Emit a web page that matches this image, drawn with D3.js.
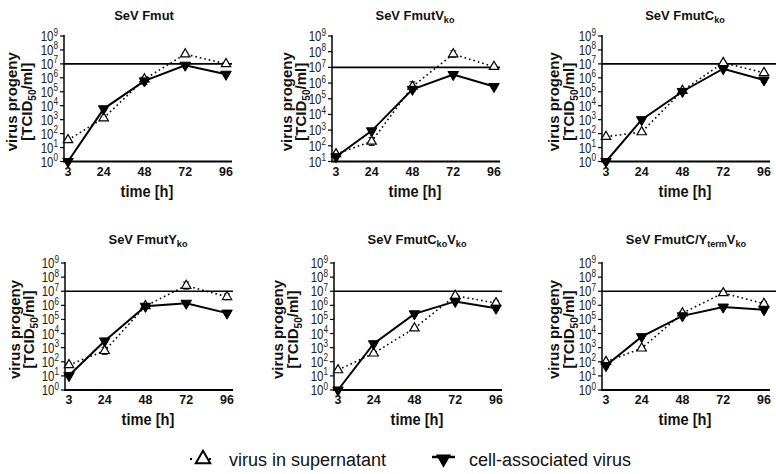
<!DOCTYPE html>
<html><head><meta charset="utf-8">
<script src="https://cdn.jsdelivr.net/npm/d3@7"></script>
<style>
html,body{margin:0;padding:0;background:#fff;}
svg{display:block;font-family:"Liberation Sans",Arial,sans-serif;}
</style></head>
<body>
<svg id="chart" width="776" height="474"></svg>
<script>
// ---------------- data ----------------
const hours = [3, 24, 48, 72, 96];
const panelTitles = [
  [["SeV Fmut", false]],
  [["SeV FmutV", false], ["ko", true]],
  [["SeV FmutC", false], ["ko", true]],
  [["SeV FmutY", false], ["ko", true]],
  [["SeV FmutC", false], ["ko", true], ["V", false], ["ko", true]],
  [["SeV FmutC/Y", false], ["term", true], ["V", false], ["ko", true]]
];
const supernatant = [
  [35, 1.3e3, 8e5, 5e7, 1e7],
  [30, 1.9e2, 6e5, 7e7, 1.1e7],
  [60, 1.3e2, 1.2e5, 1.2e7, 2.3e6],
  [60, 6e2, 9e5, 2.5e7, 4e6],
  [26, 4e2, 2.4e4, 4.8e6, 1.45e6],
  [100, 9e2, 2.8e5, 7.5e6, 1.3e6]
];
const cellAssociated = [
  [1, 6e3, 6e5, 8e6, 1.8e6],
  [20, 9e2, 4e5, 3.5e6, 6e5],
  [1, 1e3, 1.05e5, 4.5e6, 7e5],
  [10.5, 3e3, 8.5e5, 1.4e6, 2.8e5],
  [1, 1.9e3, 2.5e5, 1.9e6, 6.3e5],
  [54, 6e3, 1.8e5, 7.5e5, 4.9e5]
];
// error half-widths in log10 units
const supernatantErr = [
  [0, 0.1, 0.15, 0.1, 0.1],
  [0.1, 0.25, 0.3, 0.2, 0.1],
  [0, 0, 0.1, 0.1, 0.1],
  [0.1, 0.25, 0.1, 0.25, 0.2],
  [0.1, 0.1, 0.1, 0.1, 0.15],
  [0.1, 0.1, 0.1, 0.1, 0.15]
];
const cellErr = [
  [0, 0.1, 0.25, 0.1, 0.1],
  [0.1, 0.1, 0.1, 0.1, 0.1],
  [0, 0.1, 0.1, 0.1, 0.15],
  [0.1, 0.1, 0.1, 0.1, 0.1],
  [0, 0.1, 0.1, 0.1, 0.15],
  [0.15, 0.1, 0.1, 0.1, 0.15]
];
const yMinExp = [0, 1, 0, 0, 0, 0];
const yMaxExp = 9;
const referenceLine = 1e7;
const yTitle = "virus progeny";
const xTitle = "time [h]";
const legendLabels = ["virus in supernatant", "cell-associated virus"];

// ---------------- layout ----------------
const axisLeft = [64, 332, 602, 65, 334, 602];
const rowTop = [36, 36, 36, 263, 263, 263];
const rowBottom = [161.5, 161.5, 161.5, 390, 390, 390];
const titleBaseline = [19.5, 19.5, 19.5, 243.5, 243.5, 243.5];
const titleDx = [80, 83, 83, 83, 83, 84];
const yTitleCenters = [[-52, -37], [-45, -31], [-48, -33], [-50, -36], [-56, -41], [-48, -33]];
const SX = 0.86;

const svg = d3.select("#chart");
const triUp = d3.symbol().type(d3.symbolTriangle).size(38);
const triDown = d3.symbol().type(d3.symbolTriangle).size(48);

function ctext(parent, x, y, sx) {
  return parent.append("g").attr("transform", `translate(${x},${y}) scale(${sx},1)`)
    .append("text").attr("x", 0).attr("y", 0);
}

panelTitles.forEach((title, i) => {
  const L = axisLeft[i];
  const g = svg.append("g");
  const x = d3.scaleLinear().domain([3, 96]).range([L + 4, L + 162]);
  const y = d3.scaleLog().domain([Math.pow(10, yMinExp[i]), Math.pow(10, yMaxExp)])
              .range([rowBottom[i], rowTop[i]]);
  const xEnd = L + 168;
  const yc = (rowTop[i] + rowBottom[i]) / 2;

  // title
  const t = ctext(g, L + titleDx[i], titleBaseline[i], 0.96)
    .attr("text-anchor", "middle").attr("font-weight", "bold").attr("font-size", 13.5).attr("fill", "#111");
  title.forEach(([s, sub]) => {
    const ts = t.append("tspan").text(s);
    if (sub) ts.attr("font-size", 9.5).attr("baseline-shift", "-3");
  });

  // y axis
  const exps = d3.range(yMinExp[i], yMaxExp + 1);
  g.append("line").attr("x1", L).attr("x2", L).attr("y1", rowTop[i] - 1).attr("y2", rowBottom[i])
    .attr("stroke", "#000").attr("stroke-width", 1.5);
  exps.forEach(e => {
    const yy = y(Math.pow(10, e));
    g.append("line").attr("x1", L - 4).attr("x2", L).attr("y1", yy).attr("y2", yy)
      .attr("stroke", "#000").attr("stroke-width", 1.2);
    const tx = ctext(g, L - 6, yy + 5, 0.82)
      .attr("text-anchor", "end").attr("font-size", 14).attr("fill", "#222");
    tx.append("tspan").text("10");
    tx.append("tspan").text(e).attr("font-size", 10).attr("dy", -5.5);
  });

  // x axis
  g.append("line").attr("x1", L - 1).attr("x2", Math.min(xEnd, 776)).attr("y1", rowBottom[i]).attr("y2", rowBottom[i])
    .attr("stroke", "#000").attr("stroke-width", 2);
  hours.forEach(h => {
    ctext(g, x(h), rowBottom[i] + 14, 0.92)
      .attr("text-anchor", "middle").attr("font-size", 13.5).attr("font-weight", "bold").attr("fill", "#111").text(h);
  });
  ctext(g, L + 83, rowBottom[i] + 35, SX)
    .attr("text-anchor", "middle").attr("font-size", 17).attr("font-weight", "bold").attr("fill", "#111").text(xTitle);

  // y title (two lines, rotated)
  g.append("text").attr("transform", `translate(${L + yTitleCenters[i][0] + 4.5},${yc + 3}) rotate(-90)`)
    .attr("text-anchor", "middle").attr("font-size", 15).attr("font-weight", "bold").attr("fill", "#111").text(yTitle);
  const yt2 = g.append("text").attr("transform", `translate(${L + yTitleCenters[i][1] + 4.5},${yc + 3}) rotate(-90)`)
    .attr("text-anchor", "middle").attr("font-size", 15).attr("font-weight", "bold").attr("fill", "#111");
  yt2.append("tspan").text("[TCID");
  yt2.append("tspan").text("50").attr("font-size", 10).attr("baseline-shift", "-3.5");
  yt2.append("tspan").text("/ml]");

  // reference line
  const refEnd = i % 3 === 2 ? 776 : xEnd;
  g.append("line").attr("x1", L).attr("x2", refEnd).attr("y1", y(referenceLine)).attr("y2", y(referenceLine))
    .attr("stroke", "#000").attr("stroke-width", 1.6);

  const line = d3.line().x((d, k) => x(hours[k])).y(d => y(d));
  g.append("path").datum(cellAssociated[i]).attr("d", line)
    .attr("fill", "none").attr("stroke", "#000").attr("stroke-width", 2);
  g.append("path").datum(supernatant[i]).attr("d", line)
    .attr("fill", "none").attr("stroke", "#000").attr("stroke-width", 1.6).attr("stroke-dasharray", "1.6,3");

  // error bars
  const drawErr = (vals, errs) => vals.forEach((v, k) => {
    const e = errs[k];
    if (!e) return;
    const lv = Math.log10(v);
    const y1 = y(Math.pow(10, lv + e)), y2 = y(Math.pow(10, Math.max(lv - e, yMinExp[i])));
    const xx = x(hours[k]);
    g.append("line").attr("x1", xx).attr("x2", xx).attr("y1", y1).attr("y2", y2).attr("stroke", "#000").attr("stroke-width", 1);
    [y1, y2].forEach(yy => g.append("line").attr("x1", xx - 3).attr("x2", xx + 3).attr("y1", yy).attr("y2", yy).attr("stroke", "#000").attr("stroke-width", 1));
  });
  drawErr(supernatant[i], supernatantErr[i]);
  drawErr(cellAssociated[i], cellErr[i]);

  // markers
  g.selectAll(".sup").data(supernatant[i]).enter().append("path")
    .attr("d", triUp).attr("transform", (d, k) => `translate(${x(hours[k])},${y(d)})`)
    .attr("fill", "#fff").attr("stroke", "#000").attr("stroke-width", 1.2);
  g.selectAll(".cell").data(cellAssociated[i]).enter().append("path")
    .attr("d", triDown).attr("transform", (d, k) => `translate(${x(hours[k])},${y(d)}) rotate(180)`)
    .attr("fill", "#000").attr("stroke", "#000").attr("stroke-width", 1);
});

// ---------------- legend ----------------
const lg = svg.append("g");
const ly = 459;
lg.append("line").attr("x1", 190).attr("x2", 216).attr("y1", ly).attr("y2", ly)
  .attr("stroke", "#000").attr("stroke-width", 2).attr("stroke-dasharray", "2,17");
lg.append("path").attr("d", d3.symbol().type(d3.symbolTriangle).size(90))
  .attr("transform", `translate(203,${ly})`).attr("fill", "#fff").attr("stroke", "#000").attr("stroke-width", 2);
lg.append("text").attr("x", 229).attr("y", ly + 6.5).attr("font-size", 18).attr("fill", "#111").text(legendLabels[0]);
lg.append("line").attr("x1", 432).attr("x2", 455).attr("y1", ly - 2).attr("y2", ly - 2)
  .attr("stroke", "#000").attr("stroke-width", 2.5);
lg.append("path").attr("d", d3.symbol().type(d3.symbolTriangle).size(100))
  .attr("transform", `translate(443.5,${ly}) rotate(180)`).attr("fill", "#000");
lg.append("text").attr("x", 469).attr("y", ly + 6.5).attr("font-size", 18).attr("fill", "#111").text(legendLabels[1]);
</script>
</body></html>
